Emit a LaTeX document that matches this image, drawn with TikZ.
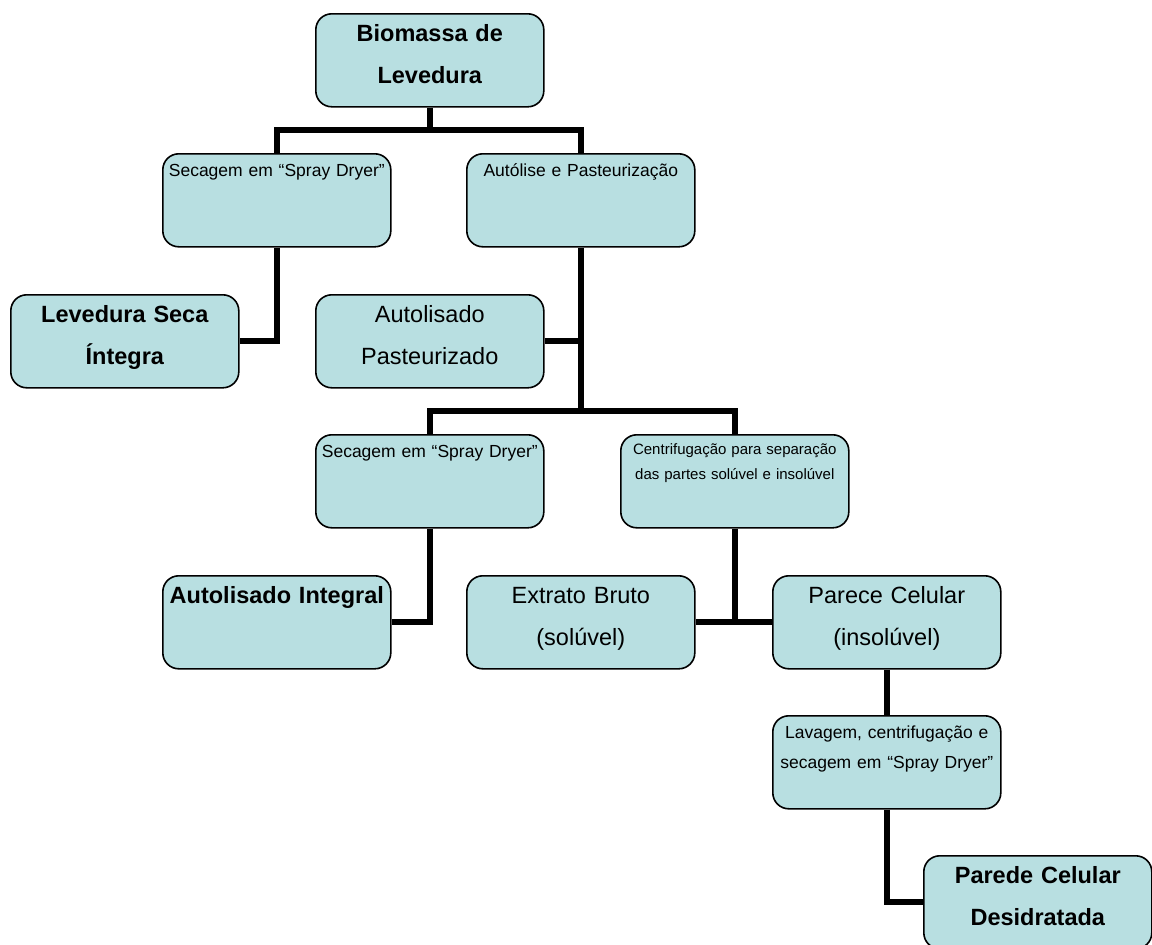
\documentclass[tikz,border=0pt]{standalone}
\usepackage{fontspec}
\setmainfont{Liberation Sans}
\definecolor{boxfill}{RGB}{184,223,225}
\tikzset{
  box/.style={draw=black, line width=1.6pt, fill=boxfill, rounded corners=16pt,
    minimum width=228pt, minimum height=93pt, inner sep=0pt, anchor=north west},
  conn/.style={draw=black, line width=6pt, line join=miter},
  bigtxt/.style={font=\fontsize{23.5}{42}\selectfont, text width=228pt, align=center, inner sep=0pt, anchor=base},
  bigbold/.style={font=\fontsize{23.5}{42}\selectfont\bfseries, text width=228pt, align=center, inner sep=0pt, anchor=base},
  smalltxt/.style={font=\fontsize{17.5}{30}\selectfont, text width=228pt, align=center, inner sep=0pt, anchor=base},
  tinytxt/.style={font=\fontsize{15}{25}\selectfont, text width=228pt, align=center, inner sep=0pt, anchor=base}
}
\begin{document}
\begin{tikzpicture}[x=1pt,y=-1pt]
\useasboundingbox[fill=white] (0,0) rectangle (1152,945);
% boxes
\node[box] (b0) at (315,13) {};
\node[box] (b1) at (162,153) {};
\node[box] (b2) at (466,153) {};
\node[box] (b3) at (10,294) {};
\node[box] (b4) at (315,294) {};
\node[box] (b5) at (315,434) {};
\node[box] (b6) at (620,434) {};
\node[box] (b7) at (162,575) {};
\node[box] (b8) at (466,575) {};
\node[box] (b9) at (772,575) {};
\node[box] (b10) at (772,715) {};
\node[box] (b11) at (923,855) {};
% junctions
\coordinate (j1) at (b0.south |- 0,130);
\coordinate (j2) at (b2.south |- 0,411);
% connectors
\draw[conn] (b0.south) -- (j1);
\draw[conn] (b1.north) |- (j1) -| (b2.north);
\draw[conn] (b1.south) |- (b3.east);
\draw[conn] (b2.south) -- (j2);
\draw[conn] (b4.east) -- (b4.east -| b2.south);
\draw[conn] (b5.north) |- (j2) -| (b6.north);
\draw[conn] (b5.south) |- (b7.east);
\draw[conn] (b6.south) -- (b6.south |- b8.east);
\draw[conn] (b8.east) -- (b9.west);
\draw[conn] (b9.south) -- (b10.north);
\draw[conn] (b10.south) |- (b11.west);
% texts
\node[bigbold, yshift=-28pt] (t0) at (b0.north) {Biomassa de\\Levedura};
\node[smalltxt, yshift=-23pt] (t1) at (b1.north) {Secagem em “Spray Dryer”};
\node[smalltxt, yshift=-23pt] (t2) at (b2.north) {Autólise e Pasteurização};
\node[bigbold, yshift=-28pt] (t3) at (b3.north) {Levedura Seca\\Íntegra};
\node[bigtxt, yshift=-28pt] (t4) at (b4.north) {Autolisado\\Pasteurizado};
\node[smalltxt, yshift=-23pt] (t5) at (b5.north) {Secagem em “Spray Dryer”};
\node[tinytxt, yshift=-20pt] (t6) at (b6.north) {Centrifugação para separação\\das partes solúvel e insolúvel};
\node[bigbold, yshift=-28pt] (t7) at (b7.north) {Autolisado Integral};
\node[bigtxt, yshift=-28pt] (t8) at (b8.north) {Extrato Bruto\\(solúvel)};
\node[bigtxt, yshift=-28pt] (t9) at (b9.north) {Parece Celular\\(insolúvel)};
\node[smalltxt, yshift=-23pt] (t10) at (b10.north) {Lavagem, centrifugação e\\secagem em “Spray Dryer”};
\node[bigbold, yshift=-28pt] (t11) at (b11.north) {Parede Celular\\Desidratada};
\end{tikzpicture}
\end{document}
